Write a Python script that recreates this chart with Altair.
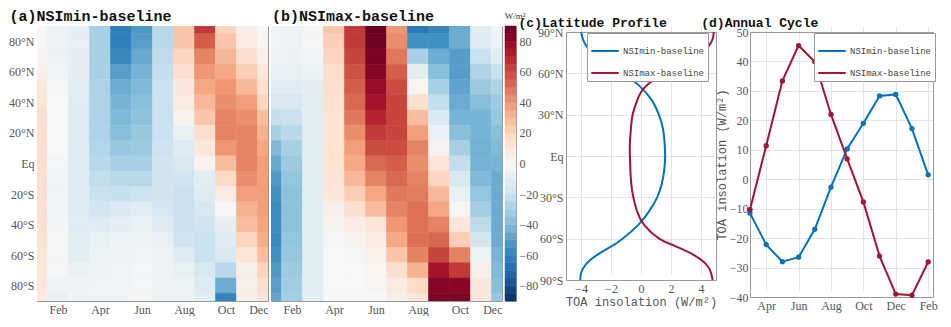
import altair as alt
import pandas as pd

# ---------------- data ----------------
MONTHS = ['Jan', 'Feb', 'Mar', 'Apr', 'May', 'Jun', 'Jul', 'Aug', 'Sep', 'Oct', 'Nov', 'Dec']
LATS = [90, 80, 70, 60, 50, 40, 30, 20, 10, 0, -10, -20, -30, -40, -50, -60, -70, -80, -90]

# (a) NSImin-baseline, W/m^2, one list per month, 90N -> 90S
NSIMIN = {
    'Jan': [0, 0, 2, 5, 10, 12, 14, 15, 15, 15, 15, 15, 15, 14, 13, 12, 12, 10, 8],
    'Feb': [-5, -5, -5, -3, -2, 0, 0, 0, 0, -2, -3, -3, -3, -2, -2, -2, -2, -4, -6],
    'Mar': [-8, -8, -8, -9, -10, -11, -12, -12, -12, -12, -12, -12, -12, -11, -10, -10, -6, -4, -3],
    'Apr': [-30, -30, -30, -30, -28, -28, -28, -28, -27, -25, -22, -20, -17, -11, -7, -5, -4, -3, -3],
    'May': [-62, -62, -58, -50, -45, -42, -40, -38, -35, -30, -25, -21, -14, -8, -5, -4, -3, -3, -3],
    'Jun': [-52, -50, -46, -42, -40, -38, -37, -35, -33, -30, -25, -19, -11, -6, -4, -3, -2, -2, -2],
    'Jul': [-25, -25, -23, -22, -20, -20, -20, -20, -19, -18, -18, -18, -16, -12, -8, -5, -4, -4, -3],
    'Aug': [25, 25, 20, 15, 10, 8, 3, -7, -12, -15, -18, -20, -20, -20, -18, -12, -7, -5, -5],
    'Sep': [65, 55, 45, 40, 35, 30, 25, 15, 10, 4, -10, -12, -15, -18, -20, -20, -15, -12, -10],
    'Oct': [20, 25, 30, 35, 40, 42, 45, 45, 40, 28, 18, 8, -2, -8, -12, -15, -25, -45, -60],
    'Nov': [5, 8, 15, 22, 30, 38, 42, 45, 45, 45, 42, 38, 32, 28, 20, 12, 5, 5, 5],
    'Dec': [0, 2, 5, 10, 15, 20, 28, 32, 35, 38, 38, 38, 38, 36, 33, 28, 20, 15, 12],
}

# (b) NSImax-baseline
NSIMAX = {
    'Jan': [-3, -3, -4, -6, -10, -15, -22, -30, -40, -46, -52, -55, -57, -57, -57, -55, -52, -50, -48],
    'Feb': [-4, -4, -5, -7, -10, -15, -20, -25, -30, -33, -36, -37, -37, -37, -36, -35, -33, -32, -31],
    'Mar': [-2, -2, -3, -5, -9, -10, -10, -10, -10, -10, -10, -10, -10, -10, -10, -10, -10, -10, -10],
    'Apr': [25, 22, 20, 17, 15, 14, 13, 13, 13, 13, 12, 10, 5, 2, 1, 0, 0, 0, 0],
    'May': [65, 65, 62, 58, 55, 52, 48, 42, 38, 35, 30, 22, 15, 7, 3, 1, 0, 0, 0],
    'Jun': [90, 88, 85, 82, 78, 75, 70, 65, 60, 52, 45, 36, 28, 12, 7, 4, 2, 1, 0],
    'Jul': [40, 42, 48, 55, 60, 62, 62, 62, 60, 55, 52, 48, 45, 40, 35, 25, 15, 8, 5],
    'Aug': [-65, -55, -30, -10, 2, 15, 28, 38, 45, 42, 45, 47, 50, 50, 50, 45, 32, 18, 12],
    'Sep': [-60, -55, -45, -38, -30, -22, -14, -6, 3, 12, 20, 30, 36, 45, 52, 62, 75, 83, 85],
    'Oct': [-45, -45, -50, -50, -48, -45, -42, -38, -30, -22, -15, -8, 1, 10, 22, 45, 65, 82, 85],
    'Nov': [-10, -12, -20, -28, -33, -38, -42, -42, -43, -42, -40, -36, -31, -24, -17, -5, 5, 10, 10],
    'Dec': [-3, -5, -10, -20, -28, -33, -35, -38, -40, -42, -45, -45, -45, -45, -45, -42, -40, -38, -35],
}

# colour bar
CB_TICKS = [80, 60, 40, 20, 0, -20, -40, -60, -80]
CB_LEVELS = list(range(-90, 90, 5))
CB_STOPS = [-90, -72, -54, -36, -18, 0, 18, 36, 54, 72, 90]
CB_COLORS = ['#053061', '#2166ac', '#4393c3', '#92c5de', '#d1e5f0', '#f7f7f7',
             '#fddbc7', '#f4a582', '#d6604d', '#b2182b', '#67001f']

# (c) latitude profile (W/m^2)
PROF_LATS = [90, 85, 80, 75, 70, 65, 60, 50, 40, 30, 20, 10, 0,
             -10, -20, -30, -40, -50, -60, -65, -70, -75, -80, -85, -90]
PROF_MIN = [-3.99, -3.88, -3.66, -3.22, -2.45, -1.74, -1.12, -0.02, 0.75, 1.19, 1.46, 1.57, 1.61,
            1.55, 1.39, 1.08, 0.55, -0.18, -1.23, -1.89, -2.66, -3.33, -3.77, -3.99, -4.05]
PROF_MAX = [4.85, 4.78, 4.52, 4.08, 3.42, 2.53, 1.54, 0.26, -0.27, -0.56, -0.67, -0.74, -0.74,
            -0.71, -0.65, -0.51, -0.27, 0.21, 1.21, 2.2, 3.2, 3.97, 4.45, 4.67, 4.78]

# (d) annual cycle (W/m^2), March .. February
CYCLE_MONTHS = ['Mar', 'Apr', 'May', 'Jun', 'Jul', 'Aug', 'Sep', 'Oct', 'Nov', 'Dec', 'Jan', 'Feb']
CYCLE_MIN = [-11.5, -22.2, -28.0, -26.5, -17.0, -2.7, 10.3, 19.0, 28.3, 28.8, 17.2, 1.5]
CYCLE_MAX = [-10.3, 11.4, 33.4, 45.4, 39.9, 22.0, 6.9, -7.7, -26.1, -39.0, -39.4, -28.1]

SERIES = ['NSImin-baseline', 'NSImax-baseline']
SERIES_COLORS = ['#0072BD', '#A2142F']

# ---------------- helpers ----------------
MONTH_EXPR = "['','Jan','Feb','Mar','Apr','May','Jun','Jul','Aug','Sep','Oct','Nov','Dec','Jan','Feb'][datum.value]"
LAT_EXPR = "datum.value == 0 ? 'Eq' : abs(datum.value) + '°' + (datum.value > 0 ? 'N' : 'S')"

LABEL_FONT = 'Liberation Serif'
MONO = 'Liberation Mono'
GREY = '#555555'
FRAME = '#999999'

color_scale = alt.Scale(domain=CB_STOPS, range=CB_COLORS, clamp=True)


def field_frame(field):
    rows = []
    for mi, m in enumerate(MONTHS):
        for li, lat in enumerate(LATS):
            rows.append({'m': mi + 1, 'lat': lat, 'v': field[m][li]})
    return pd.DataFrame(rows)


def heat(field, title, show_y):
    yaxis = alt.Axis(values=[80, 60, 40, 20, 0, -20, -40, -60, -80], labelExpr=LAT_EXPR,
                     title=None, grid=False, ticks=False, domain=False, labelPadding=3) if show_y else None
    return alt.Chart(field_frame(field)).transform_calculate(
        x0='datum.m - 0.5', x1='datum.m + 0.5', y0='datum.lat - 5', y1='datum.lat + 5'
    ).mark_rect(clip=True, strokeWidth=0.6).encode(
        x=alt.X('x0:Q', scale=alt.Scale(domain=[1, 12], nice=False, zero=False),
                axis=alt.Axis(values=[2, 4, 6, 8, 10, 12], labelExpr=MONTH_EXPR, title=None,
                              grid=False, ticks=False, domain=False, labelPadding=3)),
        x2='x1:Q',
        y=alt.Y('y0:Q', scale=alt.Scale(domain=[-90, 90], nice=False, zero=False), axis=yaxis),
        y2='y1:Q',
        color=alt.Color('v:Q', scale=color_scale, legend=None),
        stroke=alt.Stroke('v:Q', scale=color_scale, legend=None),
    ).properties(width=231, height=275,
                 title=alt.TitleParams(title, fontSize=15, dx=1, offset=2))


def spacer(w):
    return alt.Chart(pd.DataFrame({'k': [0]})).mark_point(opacity=0).encode(
        x=alt.value(0), y=alt.value(0)
    ).properties(width=w, height=1, view=alt.ViewBackground(stroke='transparent'))


def frame_axes():
    # axes used only for their domain lines, closing the box on the top and right
    top = alt.Axis(orient='top', offset=-6, labels=False, ticks=False, grid=False,
                   domain=True, domainColor=FRAME, title=None)
    right = alt.Axis(orient='right', labels=False, ticks=False, grid=False,
                     domain=True, domainColor=FRAME, title=None)
    return top, right


panel_a = heat(NSIMIN, '(a)NSImin-baseline', True)
panel_b = heat(NSIMAX, '(b)NSImax-baseline', False)

colorbar = alt.Chart(pd.DataFrame({'lo': CB_LEVELS})).transform_calculate(
    hi='datum.lo + 5', mid='datum.lo + 2.5'
).mark_rect(strokeWidth=0.5).encode(
    x=alt.value(0), x2=alt.value(11),
    y=alt.Y('lo:Q', scale=alt.Scale(domain=[-90, 90], nice=False, zero=False),
            axis=alt.Axis(orient='right', values=CB_TICKS, title=None, grid=False, ticks=False,
                          domain=False, labelPadding=3)),
    y2='hi:Q',
    color=alt.Color('mid:Q', scale=color_scale, legend=None),
    stroke=alt.Stroke('mid:Q', scale=color_scale, legend=None),
).properties(width=11, height=275,
             title=alt.TitleParams('W/m²', fontSize=9, fontWeight='normal',
                                   font=LABEL_FONT, color='#333', dx=0, offset=5))

LEGEND_STYLE = dict(title=None, symbolType='M-1,0L1,0', symbolSize=750, symbolStrokeWidth=2,
                    labelFont=MONO, labelFontSize=9, labelColor='#444',
                    fillColor='white', strokeColor=FRAME, padding=3, rowPadding=2, labelOffset=3)

# ---- (c) ----
prof_rows = []
for s, vals in zip(SERIES, [PROF_MIN, PROF_MAX]):
    for lat, v in zip(PROF_LATS, vals):
        prof_rows.append({'series': s, 'lat': lat, 'v': v})
prof_df = pd.DataFrame(prof_rows)

C_H = 254
c_x = alt.Scale(domain=[-5, 5], nice=False)
c_y = alt.Scale(domain=[-90, 90], nice=False, range=[C_H, 6])
c_lines = alt.Chart(prof_df).mark_line(strokeWidth=2, interpolate='natural').encode(
    x=alt.X('v:Q', scale=c_x,
            axis=alt.Axis(values=[-4, -2, 0, 2, 4], title='TOA insolation (W/m²)', grid=True,
                          ticks=False, domain=True, domainColor=FRAME, labelPadding=3, titlePadding=2)),
    y=alt.Y('lat:Q', scale=c_y,
            axis=alt.Axis(values=[90, 60, 30, 0, -30, -60, -90], labelExpr=LAT_EXPR, title=None,
                          grid=True, ticks=False, domain=True, domainColor=FRAME, labelPadding=3)),
    color=alt.Color('series:N', scale=alt.Scale(domain=SERIES, range=SERIES_COLORS),
                    legend=alt.Legend(orient='none', legendX=21, legendY=7, **LEGEND_STYLE)),
    order=alt.Order('lat:Q'),
)
c_top, c_right = frame_axes()
c_frame = alt.Chart(prof_df).mark_line(opacity=0).encode(
    x=alt.X('v:Q', scale=c_x, axis=c_top),
    y=alt.Y('lat:Q', scale=c_y, axis=c_right),
    order=alt.Order('lat:Q'),
)
panel_c = alt.layer(c_lines, c_frame).resolve_axis(x='independent', y='independent').properties(
    width=150, height=C_H, view=alt.ViewBackground(stroke='transparent'),
    title=alt.TitleParams('(c)Latitude Profile', fontSize=13, dx=-19, offset=-4))

# ---- (d) ----
cyc_rows = []
for s, vals in zip(SERIES, [CYCLE_MIN, CYCLE_MAX]):
    for i, (mname, v) in enumerate(zip(CYCLE_MONTHS, vals)):
        cyc_rows.append({'series': s, 'month': mname, 'mi': i + 3, 'v': v})
cyc_df = pd.DataFrame(cyc_rows)

D_H = 271
d_x = alt.Scale(domain=[3, 14.3], nice=False, zero=False)
d_y = alt.Scale(domain=[-40, 50], nice=False, range=[D_H, 6])
d_lines = alt.Chart(cyc_df).mark_line(
    strokeWidth=2, point=alt.OverlayMarkDef(filled=True, size=28)
).encode(
    x=alt.X('mi:Q', scale=d_x,
            axis=alt.Axis(values=[4, 6, 8, 10, 12, 14], labelExpr=MONTH_EXPR, title=None, grid=True,
                          ticks=False, domain=True, domainColor=FRAME, labelPadding=3)),
    y=alt.Y('v:Q', scale=d_y,
            axis=alt.Axis(values=list(range(-40, 51, 10)), title='TOA insolation (W/m²)', grid=True,
                          ticks=False, domain=True, domainColor=FRAME, labelPadding=2, titlePadding=1)),
    color=alt.Color('series:N', scale=alt.Scale(domain=SERIES, range=SERIES_COLORS),
                    legend=alt.Legend(orient='none', legendX=64, legendY=7, **LEGEND_STYLE)),
)
d_top, d_right = frame_axes()
d_frame = alt.Chart(cyc_df).mark_line(opacity=0).encode(
    x=alt.X('mi:Q', scale=d_x, axis=d_top),
    y=alt.Y('v:Q', scale=d_y, axis=d_right),
)
panel_d = alt.layer(d_lines, d_frame).resolve_axis(x='independent', y='independent').properties(
    width=183, height=D_H, view=alt.ViewBackground(stroke='transparent'),
    title=alt.TitleParams('(d)Annual Cycle', fontSize=13, dx=-14, offset=-4))

chart = alt.hconcat(
    panel_a, panel_b, colorbar, spacer(44), panel_c, spacer(28), panel_d,
    spacing=3, bounds='flush'
).resolve_scale(
    color='independent', stroke='independent'
).resolve_legend(color='independent').properties(padding=0).configure_view(
    stroke=FRAME, strokeWidth=1
).configure_axis(
    labelFont=LABEL_FONT, labelFontSize=12, labelColor=GREY,
    titleFont=MONO, titleFontSize=12, titleColor=GREY, titleFontWeight='normal',
    gridColor='#e4e4e4'
).configure_title(
    font=MONO, fontWeight='bold', anchor='start', color='#111', offset=3
)

chart.save('out.html', embed_options={'renderer': 'svg', 'actions': False})
